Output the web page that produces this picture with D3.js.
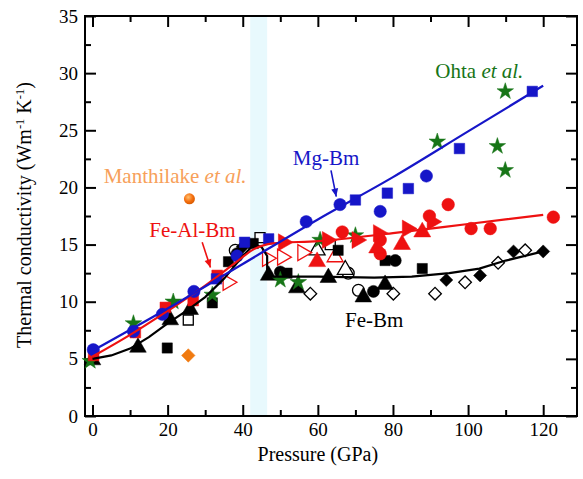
<!DOCTYPE html>
<html>
<head>
<meta charset="utf-8">
<script src="https://cdn.jsdelivr.net/npm/d3@7"></script>
<style>
  body { margin: 0; background: #fff; }
  svg text { font-family: "Liberation Serif", "Times New Roman", serif; }
</style>
</head>
<body>
<svg class="chart"></svg>
<script>
// fitted trend lines (pressure GPa, conductivity W/m/K)
const mgLine = [[0,5.7],[20,9.4],[40,13.3],[60,17.2],[80,20.9],[100,24.9],[120,28.9]]
const feAlLine = [[0,5.2],[10,7.1],[20,9.2],[30,11.4],[38,13.4],[43,14.6],[48,15.1],[60,15.3],[80,16.0],[100,16.8],[120,17.6]]
const feLine = [[0,5.0],[5,5.3],[10,5.9],[15,6.9],[20,8.1],[25,9.2],[30,10.4],[35,12.0],[40,14.0],[43,15.0],[45,14.8],[46.5,14.0],[46.5,12.2],[60,12.2],[75,12.1],[85,12.2],[95,12.5],[103,12.9],[110,13.6],[120,14.4]]

// Mg-Bm measurements
const mgCircles = [[0.2,5.8],[10.9,7.4],[18.6,8.9],[27,10.9],[38.5,14.0],[56.9,17.0],[65.9,18.5],[76.6,17.9],[88.9,21.0]]
const mgSquares = [[33,12.0],[40.5,15.2],[46.9,15.5],[70,18.9],[78.5,19.5],[84.1,19.9],[97.7,23.4],[117.1,28.4]]

// Fe-Al-Bm measurements
const feAlSquares = [[0.3,5.3],[11.4,7.3],[19.4,9.5],[26.8,10.1],[33.2,12.3]]
const feAlCircles = [[66.5,16.1],[76.6,15.4],[76.6,14.2],[89.7,17.5],[94.7,18.5],[100.8,16.4],[105.9,16.4],[122.7,17.4]]
const feAlRightTri = [[50.8,15.2],[62.5,15.4],[70.4,15.4],[76.1,16.0],[83.8,16.4],[90.4,17.0]]
const feAlUpTri = [[59.8,13.5],[75.8,14.7],[82.4,15.0],[87.8,16.1]]
const feAlOpenRightTri = [[36,11.7],[46.5,13.8],[50.5,13.9],[55.9,14.3]]
const feAlOpenUpTri = [[64.6,13.9]]

// Fe-Bm measurements
const feTri = [[0,4.9],[12.1,6.0],[20.7,8.4],[26,9.3],[46.9,12.3],[54.4,11.2],[62.8,12.1],[72.1,10.4],[77.9,11.5]]
const feSquares = [[19.9,5.95],[31.9,9.9],[36.2,13.5],[42.8,15.1],[51.8,12.5],[65.4,14.5],[77.9,13.6],[87.8,12.9]]
const feCircles = [[38.5,14.2],[50,12.6],[74.8,10.9],[80.6,13.6]]
const feDiamonds = [[40,14.8],[94.2,11.9],[103.2,12.3],[112.1,14.4],[120,14.4]]
const feOpenDiamonds = [[58,10.7],[80.1,10.7],[91.2,10.7],[99.2,11.7],[108,13.4],[115.2,14.5]]
const feOpenCircles = [[38,14.5],[68.1,12.5],[70.8,11.0]]
const feOpenSquares = [[25.5,8.4],[44.6,15.6],[63.3,15.0]]
const feOpenTri = [[59.8,14.5],[67.3,12.8]]

// literature
const ohtaStars = [[-0.6,4.8],[10.9,8.1],[21.5,10.0],[31.9,10.6],[50,11.9],[54.8,11.7],[60.6,15.4],[70,15.8],[91.8,24.0],[107.8,23.6],[109.9,21.5],[109.9,28.4]]
const manthilakeCircle = [[25.8,19.0]]
const manthilakeDiamond = [[25.5,5.3]]

const transitionBand = [42, 46.5]
const xMajor = [0,20,40,60,80,100,120]
const xMinor = [10,30,50,70,90,110]
const yMajor = [0,5,10,15,20,25,30,35]
const yMinor = [2.5,7.5,12.5,17.5,22.5,27.5,32.5]

const margin = {top: 16, right: 6, bottom: 63, left: 85}
const W = 583, H = 479
const width = W - margin.left - margin.right
const height = H - margin.top - margin.bottom

const blue = "#1616c8", red = "#ee1111", green = "#177517", orange = "#f07a10"

const svg = d3.select(".chart").attr("width", W).attr("height", H)
const g = svg.append("g").attr("transform", `translate(${margin.left},${margin.top})`)

const x = d3.scaleLinear().domain([-2, 129]).range([0, width])
const y = d3.scaleLinear().domain([0, 35]).range([height, 0])

g.append("rect")
  .attr("x", x(transitionBand[0])).attr("y", 0)
  .attr("width", x(transitionBand[1]) - x(transitionBand[0]))
  .attr("height", height)
  .attr("fill", "#e8f9fd")

// axes on all four sides, ticks inward
function tickAxis(gen, vals, size, labels) {
  return gen.tickValues(vals).tickSizeInner(-size).tickSizeOuter(0).tickPadding(7)
    .tickFormat(labels ? d3.format("d") : "")
}
const axes = [
  {gen: () => d3.axisBottom(x), t: `translate(0,${height})`, maj: xMajor, min: xMinor, lab: true},
  {gen: () => d3.axisTop(x), t: "translate(0,0)", maj: xMajor, min: xMinor, lab: false},
  {gen: () => d3.axisLeft(y), t: "translate(0,0)", maj: yMajor, min: yMinor, lab: true},
  {gen: () => d3.axisRight(y), t: `translate(${width},0)`, maj: yMajor, min: yMinor, lab: false}
]
axes.forEach(a => {
  const maj = g.append("g").attr("transform", a.t).call(tickAxis(a.gen(), a.maj, 11, a.lab))
  const mn = g.append("g").attr("transform", a.t).call(tickAxis(a.gen(), a.min, 6, false))
  ;[maj, mn].forEach(s => {
    s.select(".domain").remove()
    s.selectAll("line").attr("stroke", "#000").attr("stroke-width", 2)
    s.selectAll("text").attr("font-size", 19).attr("fill", "#000")
      .attr("font-family", "Liberation Serif")
  })
})

g.append("rect").attr("width", width).attr("height", height)
  .attr("fill", "none").attr("stroke", "#000").attr("stroke-width", 2)

// markers
const sym = (type, size) => d3.symbol().type(type).size(size)()
function drawPts(data, type, size, color, open, rot) {
  g.selectAll(null).data(data).enter().append("path")
    .attr("d", sym(type, size))
    .attr("transform", d => `translate(${x(d[0])},${y(d[1])}) rotate(${rot || 0})`)
    .attr("fill", open ? "#fff" : color)
    .attr("stroke", color)
    .attr("stroke-width", open ? 1.3 : 0.5)
}

drawPts(feOpenDiamonds, d3.symbolSquare, 80, "#000", true, 45)
drawPts(feOpenCircles, d3.symbolCircle, 110, "#000", true)
drawPts(feOpenSquares, d3.symbolSquare, 100, "#000", true)
drawPts(feOpenTri, d3.symbolTriangle, 110, "#000", true)
drawPts(feAlOpenRightTri, d3.symbolTriangle, 110, red, true, 90)
drawPts(feAlOpenUpTri, d3.symbolTriangle, 110, red, true)
drawPts(feTri, d3.symbolTriangle, 120, "#000")
drawPts(feSquares, d3.symbolSquare, 105, "#000")
drawPts(feCircles, d3.symbolCircle, 115, "#000")
drawPts(feDiamonds, d3.symbolSquare, 85, "#000", false, 45)
drawPts(ohtaStars, d3.symbolStar, 85, green)
drawPts(feAlSquares, d3.symbolSquare, 115, red)
drawPts(feAlCircles, d3.symbolCircle, 125, red)
drawPts(feAlRightTri, d3.symbolTriangle, 125, red, false, 90)
drawPts(feAlUpTri, d3.symbolTriangle, 125, red)
drawPts(mgCircles, d3.symbolCircle, 120, blue)
drawPts(mgSquares, d3.symbolSquare, 110, blue)
drawPts(manthilakeDiamond, d3.symbolSquare, 90, orange, false, 45)

const grad = svg.append("defs").append("radialGradient").attr("id", "orb")
  .attr("cx", "40%").attr("cy", "35%").attr("r", "65%")
grad.append("stop").attr("offset", "0%").attr("stop-color", "#ffc070")
grad.append("stop").attr("offset", "60%").attr("stop-color", "#f57010")
grad.append("stop").attr("offset", "100%").attr("stop-color", "#d85a00")
g.selectAll(null).data(manthilakeCircle).enter().append("circle")
  .attr("cx", d => x(d[0])).attr("cy", d => y(d[1])).attr("r", 5.5)
  .attr("fill", "url(#orb)")

// trend lines
const line = d3.line().x(d => x(d[0])).y(d => y(d[1])).curve(d3.curveMonotoneX)
const lineSharp = d3.line().x(d => x(d[0])).y(d => y(d[1]))
g.append("path").datum(feLine).attr("d", lineSharp)
  .attr("fill", "none").attr("stroke", "#000").attr("stroke-width", 2.2)
g.append("path").datum(feAlLine).attr("d", line)
  .attr("fill", "none").attr("stroke", red).attr("stroke-width", 2.2)
g.append("path").datum(mgLine).attr("d", line)
  .attr("fill", "none").attr("stroke", blue).attr("stroke-width", 2.2)

// annotations
function label(txt, px, py, color, italicPart) {
  const t = g.append("text").attr("x", x(px)).attr("y", y(py))
    .attr("text-anchor", "middle").attr("font-size", 21).attr("fill", color)
  t.append("tspan").text(txt)
  if (italicPart) t.append("tspan").attr("font-style", "italic").text(italicPart)
}
function arrow(x1, y1, x2, y2, color) {
  const ax = x(x1), ay = y(y1), bx = x(x2), by = y(y2)
  const ang = Math.atan2(by - ay, bx - ax) * 180 / Math.PI
  g.append("line").attr("x1", ax).attr("y1", ay).attr("x2", bx).attr("y2", by)
    .attr("stroke", color).attr("stroke-width", 1.6)
  g.append("path").attr("d", "M0,0 L-8,-3.5 L-8,3.5 Z").attr("fill", color)
    .attr("transform", `translate(${bx},${by}) rotate(${ang})`)
}
label("Mg-Bm", 62.2, 22.0, blue)
arrow(63.5, 21.5, 64.9, 19.2, blue)
label("Fe-Al-Bm", 26.6, 15.7, red)
arrow(29.2, 15.2, 31.4, 13.0, red)
label("Fe-Bm", 75, 7.8, "#000")
label("Ohta ", 103, 29.6, green, "et al.")
label("Manthilake ", 22, 20.4, "#f7a05a", "et al.")

// axis titles
svg.append("text").attr("x", margin.left + x(60)).attr("y", 461)
  .attr("text-anchor", "middle").attr("font-size", 20).text("Pressure (GPa)")
const yt = svg.append("text").attr("transform", "translate(31,215) rotate(-90)")
  .attr("text-anchor", "middle").attr("font-size", 20)
yt.append("tspan").text("Thermal conductivity (Wm")
yt.append("tspan").attr("font-size", 12.5).attr("dy", -7).text("-1")
yt.append("tspan").attr("dy", 7).text(" K")
yt.append("tspan").attr("font-size", 12.5).attr("dy", -7).text("-1")
yt.append("tspan").attr("dy", 7).text(")")
</script>
</body>
</html>
